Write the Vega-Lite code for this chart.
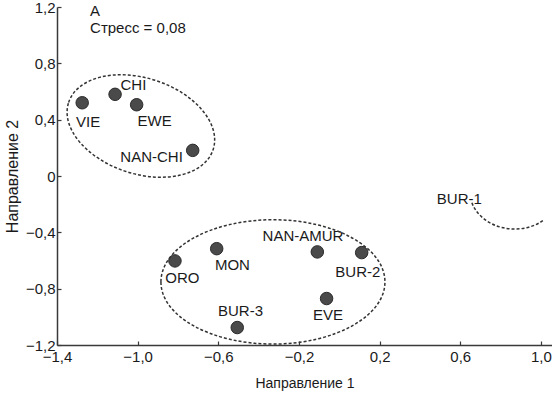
{
  "$schema": "https://vega.github.io/schema/vega-lite/v6.json",
  "width": 495,
  "height": 338,
  "autosize": "none",
  "padding": {"left": 57, "top": 7, "right": 0, "bottom": 49},
  "background": "white",
  "config": {
    "view": {"stroke": null},
    "font": "Liberation Sans",
    "axis": {"grid": false, "labelFont": "Liberation Sans", "titleFont": "Liberation Sans", "titleFontWeight": "normal", "labelColor": "#1a1a1a", "titleColor": "#1a1a1a", "domainColor": "#3a3a3a", "domainWidth": 1.5, "tickColor": "#3a3a3a", "tickWidth": 1.2, "tickSize": -4, "labelPadding": 6, "labelFlush": false, "labelOverlap": false, "labelBound": false}
  },
  "datasets": {
    "pts": [
      {"name": "VIE", "x": -1.275, "y": 0.52, "lx": -1.246, "ly": 0.383},
      {"name": "CHI", "x": -1.112, "y": 0.58, "lx": -1.021, "ly": 0.645},
      {"name": "EWE", "x": -1.005, "y": 0.506, "lx": -0.916, "ly": 0.39},
      {"name": "NAN-CHI", "x": -0.727, "y": 0.182, "lx": -0.931, "ly": 0.135},
      {"name": "ORO", "x": -0.815, "y": -0.603, "lx": -0.778, "ly": -0.721},
      {"name": "MON", "x": -0.608, "y": -0.516, "lx": -0.53, "ly": -0.631},
      {"name": "NAN-AMUR", "x": -0.109, "y": -0.539, "lx": -0.18, "ly": -0.426},
      {"name": "BUR-2", "x": 0.111, "y": -0.544, "lx": 0.092, "ly": -0.681},
      {"name": "EVE", "x": -0.063, "y": -0.87, "lx": -0.056, "ly": -0.986},
      {"name": "BUR-3", "x": -0.506, "y": -1.076, "lx": -0.49, "ly": -0.957}
    ],
    "groups": [
      {"group": "north", "cx": -0.984, "cy": 0.355},
      {"group": "south", "cx": -0.329, "cy": -0.752},
      {"group": "bur1", "cx": 0.871, "cy": -0.106}
    ],
    "notes": [
      {"text": "BUR-1", "x": 0.484, "y": -0.163},
      {"text": "A", "x": -1.236, "y": 1.17},
      {"text": "Стресс = 0,08", "x": -1.236, "y": 1.05}
    ]
  },
  "layer": [
    {
      "data": {"name": "pts"},
      "mark": {"type": "point", "filled": true, "shape": "circle", "size": 156, "color": "#4a4a4a", "stroke": "#2a2a2a", "strokeWidth": 1, "opacity": 1},
      "encoding": {
        "x": {"field": "x", "type": "quantitative", "scale": {"domain": [-1.4, 1.055], "nice": false, "zero": false},
          "axis": {"values": [-1.4, -1.0, -0.6, -0.2, 0.2, 0.6, 1.0], "title": "Направление 1", "titleFontSize": 14, "labelFontSize": 15, "labelPadding": 8, "titlePadding": 12,
            "labelExpr": "datum.value == 0 ? '0' : replace(format(datum.value, '.1f'), '.', ',')"}},
        "y": {"field": "y", "type": "quantitative", "scale": {"domain": [-1.2, 1.2], "nice": false, "zero": false},
          "axis": {"values": [-1.2, -0.8, -0.4, 0, 0.4, 0.8, 1.2], "title": "Направление 2", "titleFontSize": 16, "labelFontSize": 15, "titlePadding": 5,
            "labelExpr": "datum.value == 0 ? '0' : replace(format(datum.value, '.1f'), '.', ',')"}}
      }
    },
    {
      "data": {"name": "pts"},
      "mark": {"type": "text", "fontSize": 15, "font": "Liberation Sans", "color": "#1a1a1a", "align": "center", "baseline": "middle"},
      "encoding": {
        "x": {"field": "lx", "type": "quantitative"},
        "y": {"field": "ly", "type": "quantitative"},
        "text": {"field": "name"}
      }
    },
    {
      "data": {"name": "groups"},
      "transform": [{"filter": "datum.group == 'north'"}],
      "mark": {"type": "point", "filled": false, "shape": "M -1 0 A 1 0.63 0 1 1 1 0 A 1 0.63 0 1 1 -1 0 Z", "size": 23104, "angle": 18, "stroke": "#333333", "strokeWidth": 1.5, "strokeDash": [3, 2], "opacity": 1},
      "encoding": {"x": {"field": "cx", "type": "quantitative"}, "y": {"field": "cy", "type": "quantitative"}}
    },
    {
      "data": {"name": "groups"},
      "transform": [{"filter": "datum.group == 'south'"}],
      "mark": {"type": "point", "filled": false, "shape": "M -1 0 A 1 0.555 0 1 1 1 0 A 1 0.555 0 1 1 -1 0 Z", "size": 50176, "angle": 0, "stroke": "#333333", "strokeWidth": 1.5, "strokeDash": [3, 2], "opacity": 1},
      "encoding": {"x": {"field": "cx", "type": "quantitative"}, "y": {"field": "cy", "type": "quantitative"}}
    },
    {
      "data": {"name": "groups"},
      "transform": [{"filter": "datum.group == 'bur1'"}],
      "mark": {"type": "point", "filled": false, "shape": "M -0.956 0.264 A 1 0.844 0 0 0 0.622 0.661", "size": 8100, "stroke": "#333333", "strokeWidth": 1.5, "strokeDash": [3, 2], "opacity": 1},
      "encoding": {"x": {"field": "cx", "type": "quantitative"}, "y": {"field": "cy", "type": "quantitative"}}
    },
    {
      "data": {"name": "notes"},
      "mark": {"type": "text", "fontSize": 15, "font": "Liberation Sans", "color": "#1a1a1a", "align": "left", "baseline": "middle"},
      "encoding": {
        "x": {"field": "x", "type": "quantitative"},
        "y": {"field": "y", "type": "quantitative"},
        "text": {"field": "text"}
      }
    }
  ]
}
